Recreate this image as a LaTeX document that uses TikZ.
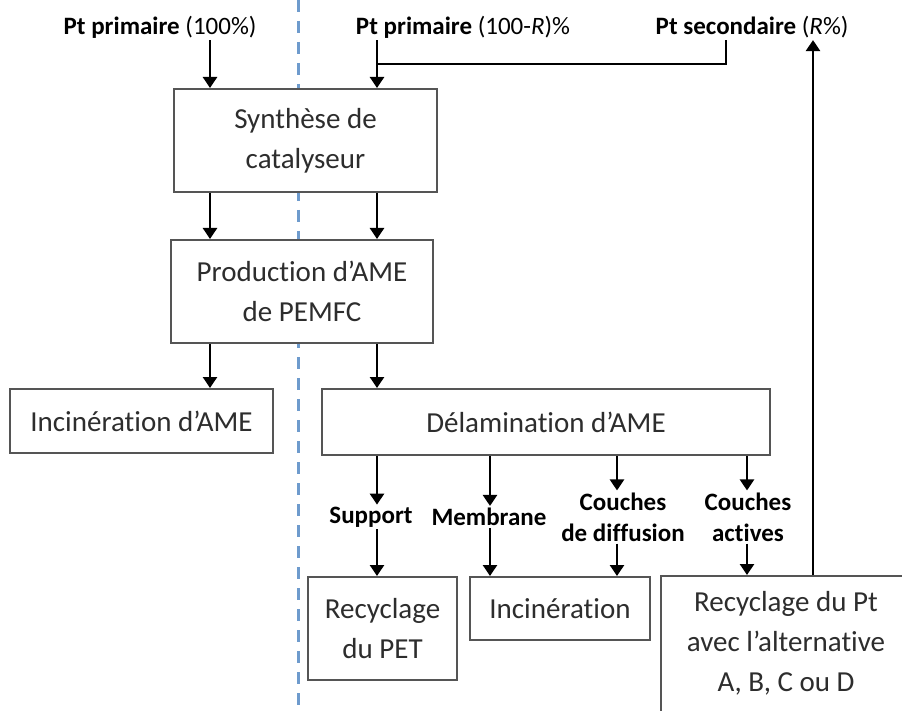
\documentclass[tikz,border=0pt]{standalone}
\usepackage{fontspec}
\setmainfont{Carlito}[Ligatures={NoCommon}]
\usetikzlibrary{arrows.meta}
\definecolor{dashblue}{RGB}{110,155,205}
\definecolor{boxline}{RGB}{85,85,85}
\definecolor{boxtext}{RGB}{45,45,45}
\begin{document}
\begin{tikzpicture}[x=1pt,y=-1pt,
 box/.style={draw=boxline, line width=2pt, fill=white, inner sep=0pt},
 btxt/.style={font=\fontsize{29}{40}\selectfont, text=boxtext, align=center, inner sep=0pt},
 lbl/.style={font=\fontsize{25}{31}\selectfont\bfseries, align=center, inner sep=2pt},
 arr/.style={line width=2.5pt, -{Triangle[width=14pt,length=11pt]}},
 ln/.style={line width=2.5pt}]
\clip (0,0) rectangle (902,711);
\fill[white] (0,0) rectangle (902,711);
\draw[dashblue, line width=3pt, dash pattern=on 12pt off 9pt] (298,0) -- (298,711);

% top labels
\node[lbl] (top1) at (160,27) {Pt primaire \mdseries(100\%)};
\node[lbl] (top2) at (463,27) {Pt primaire \mdseries(100-\textit{R})\%};
\node[lbl] (top3) at (752,27) {Pt secondaire \mdseries(\textit{R}\%)};

% boxes
\node[box, btxt, minimum width=263, minimum height=103] (syn) at (305.5,140.5) {Synthèse de\\catalyseur};
\node[box, btxt, minimum width=262, minimum height=103] (prod) at (302,291.5) {Production d’AME\\de PEMFC};
\node[box, btxt, minimum width=263, minimum height=64] (incAME) at (141.5,421) {Incinération d’AME};
\node[box, btxt, minimum width=448, minimum height=66] (dela) at (546,422) {Délamination d’AME};
\node[box, btxt, minimum width=149, minimum height=103] (pet) at (382.5,628.5) {Recyclage\\du PET};
\node[box, btxt, minimum width=180, minimum height=63] (inc) at (560,608.5) {Incinération};
\node[box, minimum width=250, minimum height=148] (rpt) at (786,650) {};
\node[btxt] (rpttxt) at (786,643) {Recyclage du Pt\\avec l’alternative\\A, B, C ou D};

% stream labels
\node[lbl] (sup) at (371,517) {Support};
\node[lbl] (mem) at (489,517) {Membrane};
\node[lbl] (dif) at (623,517) {Couches\\de diffusion};
\node[lbl] (act) at (748,517) {Couches\\actives};

% reference x positions
\coordinate (cL) at (210,0);
\coordinate (cR) at (377,0);
\coordinate (c2) at (490,0);
\coordinate (c3) at (617,0);
\coordinate (c4) at (747,0);
\coordinate (cS) at (726,0);
\coordinate (cT) at (813,0);
\coordinate (j) at (377,64);

% connectors
\draw[arr] (top1.south -| cL) -- (syn.north -| cL);
\draw[arr] (top2.south -| cR) -- (syn.north -| cR);
\draw[ln] (top3.south -| cS) |- (j);
\draw[arr] (rpt.north -| cT) -- (top3.south -| cT);

\draw[arr] (syn.south -| cL) -- (prod.north -| cL);
\draw[arr] (syn.south -| cR) -- (prod.north -| cR);
\draw[arr] (prod.south -| cL) -- (incAME.north -| cL);
\draw[arr] (prod.south -| cR) -- (dela.north -| cR);

\draw[arr] (dela.south -| cR) -- (sup.north -| cR);
\draw[arr] (dela.south -| c2) -- (mem.north -| c2);
\draw[arr] (dela.south -| c3) -- (dif.north -| c3);
\draw[arr] (dela.south -| c4) -- (act.north -| c4);

\draw[arr] (sup.south -| cR) -- (pet.north -| cR);
\draw[arr] (mem.south -| c2) -- (inc.north -| c2);
\draw[arr] (dif.south -| c3) -- (inc.north -| c3);
\draw[arr] (act.south -| c4) -- (rpt.north -| c4);
\end{tikzpicture}
\end{document}
